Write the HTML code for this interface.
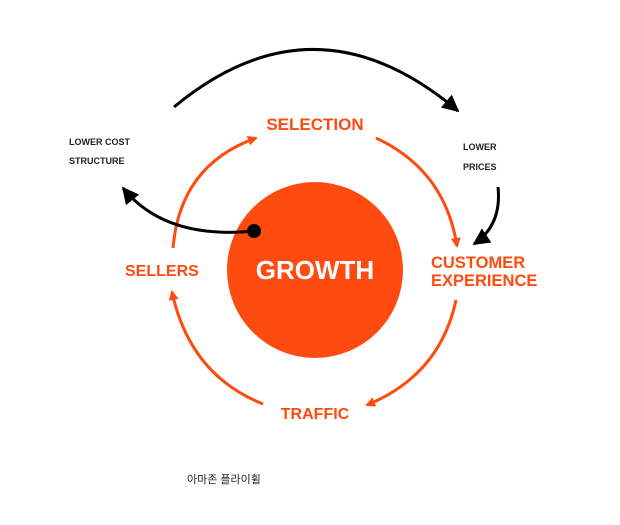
<!DOCTYPE html>
<html><head><meta charset="utf-8"><style>
html,body{margin:0;padding:0;background:#fff;}
svg{display:block;}
</style></head><body>
<svg width="620" height="525" viewBox="0 0 620 525" xmlns="http://www.w3.org/2000/svg">
<defs>
<marker id="ob" viewBox="0 0 10 10" refX="8" refY="5" markerWidth="10" markerHeight="10" orient="auto" markerUnits="userSpaceOnUse"><path d="M0,0 L10,5 L0,10 z" fill="#FF4B0F"/></marker>
<marker id="bk" viewBox="0 0 10 10" refX="9" refY="5" markerWidth="17" markerHeight="17" orient="auto" markerUnits="userSpaceOnUse"><path d="M0,0 L10,5 L0,10 z" fill="#000"/></marker>
</defs>
<circle cx="315" cy="270" r="88" fill="#FF4B0F"/>
<text x="315" y="279" text-anchor="middle" font-family="Liberation Sans, sans-serif" font-weight="bold" font-size="26" fill="#fff">GROWTH</text>
<g fill="none" stroke="#FF4B0F" stroke-width="3">
<path d="M173,248 Q180,165 256,138" marker-end="url(#ob)"/>
<path d="M376,138 Q445,170 457,246" marker-end="url(#ob)"/>
<path d="M456,300 Q440,375 367,405" marker-end="url(#ob)"/>
<path d="M263,404 Q190,375 172,292" marker-end="url(#ob)"/>
</g>
<g fill="none" stroke="#000" stroke-width="3">
<path d="M174,107 Q315,-10 458,111" marker-end="url(#bk)"/>
<path d="M498,187 Q502,225 474,244" marker-end="url(#bk)"/>
<path d="M254,231 Q165,240 123,188" marker-end="url(#bk)"/>
</g>
<circle cx="254" cy="231" r="7" fill="#000"/>
<g font-family="Liberation Sans, sans-serif" font-weight="bold" fill="#FF4B0F" font-size="16">
<text x="315" y="130" text-anchor="middle" font-size="17">SELECTION</text>
<text x="125" y="276">SELLERS</text>
<text x="431" y="268" font-size="16.5">CUSTOMER</text>
<text x="431" y="286" font-size="16.5">EXPERIENCE</text>
<text x="315" y="419" text-anchor="middle">TRAFFIC</text>
</g>
<g font-family="Liberation Sans, sans-serif" font-weight="bold" fill="#222" font-size="9">
<text x="69" y="145">LOWER COST</text>
<text x="69" y="164">STRUCTURE</text>
<text x="463" y="150">LOWER</text>
<text x="463" y="170">PRICES</text>
</g>
<text x="187" y="483" font-family="Liberation Sans, 'Noto Sans CJK KR', sans-serif" font-size="11" fill="#222">아마존 플라이휠</text>
</svg>
</body></html>
